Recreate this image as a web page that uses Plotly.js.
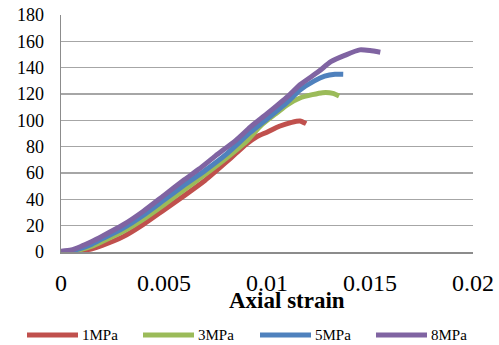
<!DOCTYPE html>
<html><head><meta charset="utf-8">
<script src="https://cdn.plot.ly/plotly-3.0.1.min.js"></script>
<style>html,body{margin:0;padding:0;background:#fff}#chart{width:499px;height:345px}</style>
</head><body><div id="chart"></div>
<script>
const seriesNames = ["1MPa", "3MPa", "5MPa", "8MPa"];
const seriesColors = ["#C0504D", "#9BBB59", "#4F81BD", "#8064A2"];

const strain1 = [0, 0.0005, 0.001, 0.0015, 0.002, 0.003, 0.004, 0.005, 0.006, 0.007, 0.008, 0.0085, 0.009, 0.0095, 0.010, 0.0106, 0.0112, 0.0116, 0.0119];
const stress1 = [0, 0.3, 1, 2.5, 5, 11.5, 21, 32, 43, 54.5, 68, 75, 82, 87.5, 91, 95.5, 98.5, 99.5, 97.5];

const strain3 = [0, 0.0005, 0.001, 0.0015, 0.002, 0.003, 0.004, 0.005, 0.006, 0.007, 0.008, 0.009, 0.0097, 0.0105, 0.011, 0.0116, 0.0122, 0.0127, 0.0132, 0.0135];
const stress3 = [0, 0.5, 2, 4.5, 8, 15.5, 25, 36, 47.5, 59, 71, 84, 96, 106, 112, 117, 119.5, 121, 120.5, 118.5];

const strain5 = [0, 0.0005, 0.001, 0.0015, 0.002, 0.003, 0.004, 0.005, 0.006, 0.007, 0.008, 0.0092, 0.010, 0.011, 0.0116, 0.0123, 0.0128, 0.0133, 0.0137];
const stress5 = [0, 0.8, 3, 6, 10, 18, 28, 39.5, 51, 62, 74, 91, 101, 114, 123, 130, 133.5, 135, 135];

const strain8 = [0, 0.0005, 0.001, 0.0015, 0.002, 0.003, 0.004, 0.005, 0.006, 0.0067, 0.0075, 0.0085, 0.0092, 0.010, 0.011, 0.0116, 0.0125, 0.0131, 0.0138, 0.0145, 0.015, 0.0155];
const stress8 = [0.5, 1.5, 4.5, 8, 12, 20.5, 31, 43, 55, 63, 73, 85, 95, 105, 118, 127, 137, 144.5, 149.5, 153.5, 153, 151.7];

const xTicks = [0, 0.005, 0.01, 0.015, 0.02];
const xTickLabels = ["0", "0.005", "0.01", "0.015", "0.02"];
const yTicks = [0, 20, 40, 60, 80, 100, 120, 140, 160, 180];
const yTickLabels = ["0", "20", "40", "60", "80", "100", "120", "140", "160", "180"];
const xTitle = "Axial strain";

const SERIF = "Liberation Serif, Times New Roman, serif";
const xs = [strain1, strain3, strain5, strain8];
const ys = [stress1, stress3, stress5, stress8];
const traces = seriesNames.map((n, i) => ({
  x: xs[i], y: ys[i], name: n, type: "scatter", mode: "lines", showlegend: false,
  line: {color: seriesColors[i], width: 5, shape: "spline", smoothing: 0.6}
}));

// manual legend (paper coordinates of plot area: l=61, w=412, t=15, h=237)
const W = 412, H = 237, L = 61, B = 252;
const px = v => (v - L) / W;
const py = v => (B - v) / H;
const legendStarts = [27, 143, 260, 376];
const shapes = [], annotations = [];
seriesNames.forEach((n, i) => {
  const x0 = legendStarts[i];
  shapes.push({type: "line", xref: "paper", yref: "paper", x0: px(x0), x1: px(x0 + 51),
    y0: py(335), y1: py(335), line: {color: seriesColors[i], width: 5}});
  annotations.push({text: n, xref: "paper", yref: "paper", x: px(x0 + 53), y: py(335),
    xanchor: "left", yanchor: "middle", showarrow: false,
    font: {family: SERIF, size: 15, color: "#000"}});
});
annotations.push({text: "<b>" + xTitle + "</b>", xref: "paper", yref: "paper",
  x: px(286.5), y: py(300), xanchor: "center", yanchor: "middle", showarrow: false,
  font: {family: SERIF, size: 23, color: "#000"}});

const layout = {
  width: 499, height: 345,
  margin: {l: 61, r: 26, t: 15, b: 93},
  paper_bgcolor: "#fff", plot_bgcolor: "#fff",
  font: {family: SERIF, color: "#000"},
  showlegend: false,
  xaxis: {range: [0, 0.02], tickvals: xTicks, ticktext: xTickLabels,
    showgrid: false, zeroline: false, showline: true, linecolor: "#8c8c8c", linewidth: 1.5,
    ticks: "outside", ticklen: 9, tickcolor: "rgba(0,0,0,0)",
    tickfont: {family: SERIF, size: 24, color: "#000"}, fixedrange: true},
  yaxis: {range: [0, 180], tickvals: yTicks, ticktext: yTickLabels,
    showgrid: true, gridcolor: "#a6a6a6", gridwidth: 1.5, zeroline: false,
    showline: true, linecolor: "#8c8c8c", linewidth: 1.5,
    ticks: "outside", ticklen: 12, tickcolor: "rgba(0,0,0,0)",
    tickfont: {family: SERIF, size: 18, color: "#000"}, fixedrange: true},
  shapes: shapes,
  annotations: annotations
};
Plotly.newPlot("chart", traces, layout, {displayModeBar: false, staticPlot: true});
</script></body></html>
